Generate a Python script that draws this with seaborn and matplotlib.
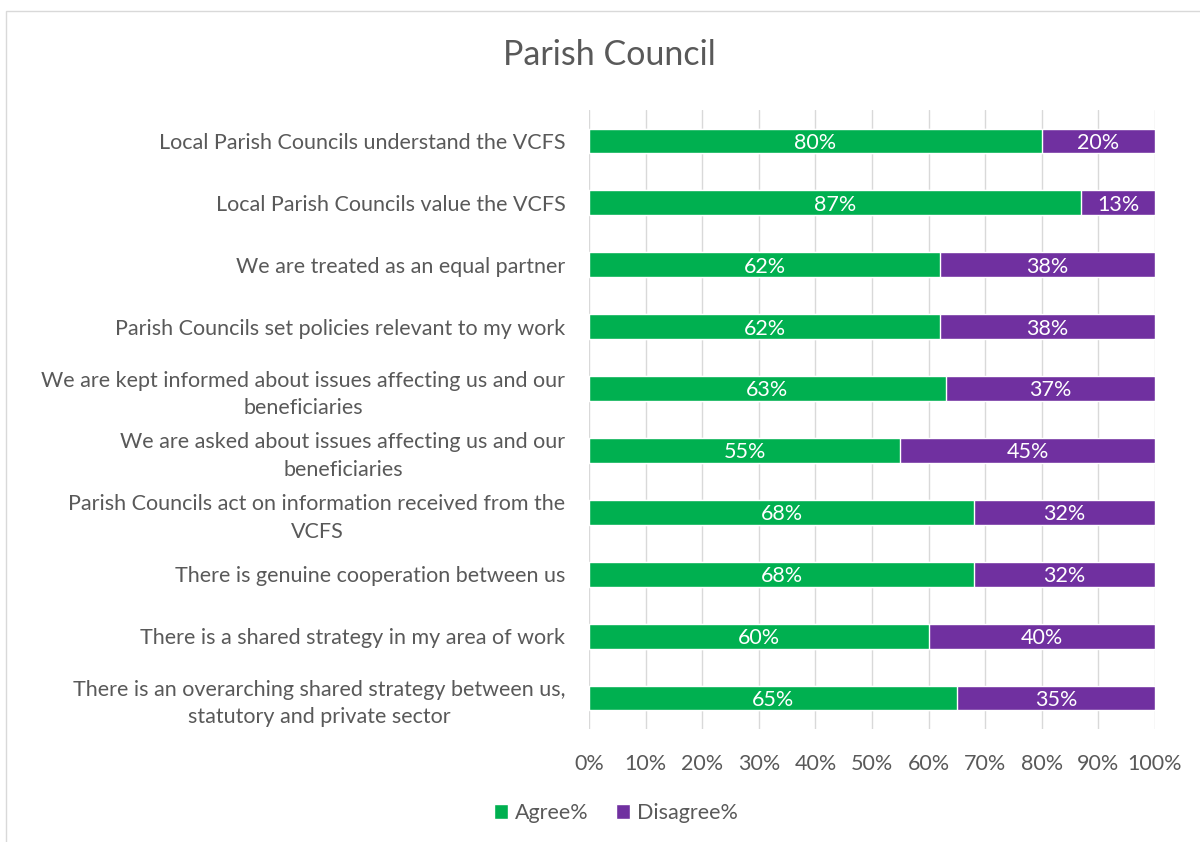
import matplotlib
matplotlib.use("Agg")
import matplotlib.pyplot as plt
from matplotlib.patches import Patch, Rectangle
import seaborn as sns
import pandas as pd

statements = [
    "Local Parish Councils understand the VCFS",
    "Local Parish Councils value the VCFS",
    "We are treated as an equal partner",
    "Parish Councils set policies relevant to my work",
    "We are kept informed about issues affecting us and our\nbeneficiaries",
    "We are asked about issues affecting us and our\nbeneficiaries",
    "Parish Councils act on information received from the\nVCFS",
    "There is genuine cooperation between us",
    "There is a shared strategy in my area of work",
    "There is an overarching shared strategy between us,\nstatutory and private sector",
]
agree = [80, 87, 62, 62, 63, 55, 68, 68, 60, 65]
disagree = [20, 13, 38, 38, 37, 45, 32, 32, 40, 35]
x_ticks = [0, 10, 20, 30, 40, 50, 60, 70, 80, 90, 100]

GREEN = "#00B050"
PURPLE = "#7030A0"
TEXT = "#595959"
GRID = "#D9D9D9"

sns.set_theme(style="white")
plt.rcParams["font.family"] = ["Lato", "DejaVu Sans"]

df = pd.DataFrame({"statement": statements, "agree": agree, "disagree": disagree})
df["total"] = df["agree"] + df["disagree"]

fig = plt.figure(figsize=(12, 8.42), dpi=100)
ax = fig.add_axes([589 / 1200, 1 - 729 / 842, 566 / 1200, 619 / 842])

# stacked horizontal bars: full-length disagree layer, agree layer on top
sns.barplot(data=df, y="statement", x="total", color=PURPLE, orient="h",
            width=0.4, ax=ax, saturation=1, zorder=2)
sns.barplot(data=df, y="statement", x="agree", color=GREEN, orient="h",
            width=0.4, ax=ax, saturation=1, zorder=3)

for i, (a, d) in enumerate(zip(agree, disagree)):
    ax.text(a / 2, i + 0.03, f"{a}%", ha="center", va="center", color="white",
            fontsize=15.5, zorder=4)
    ax.text(a + d / 2, i + 0.03, f"{d}%", ha="center", va="center", color="white",
            fontsize=15.5, zorder=4)

ax.set_xlim(0, 100)
ax.set_ylim(len(statements) - 0.5, -0.5)
ax.set_xticks(x_ticks)
ax.set_xticklabels([f"{t}%" for t in x_ticks])
ax.xaxis.grid(True, color=GRID, linewidth=1, zorder=0)
ax.set_axisbelow(True)
ax.set_xlabel("")
ax.set_ylabel("")
for s in ax.spines.values():
    s.set_visible(False)
ax.tick_params(axis="x", length=0, pad=18, labelsize=15.5, labelcolor=TEXT)
ax.tick_params(axis="y", length=0, pad=17, labelsize=15.5, labelcolor=TEXT)
for lbl in ax.get_yticklabels():
    lbl.set_multialignment("center")
    lbl.set_linespacing(1.45)

fig.text(609 / 1200, 1 - 55 / 842, "Parish Council", ha="center", va="center",
         fontsize=24.5, color=TEXT)

handles = [Patch(facecolor=GREEN, label="Agree%"),
           Patch(facecolor=PURPLE, label="Disagree%")]
fig.legend(handles=handles, loc="center", bbox_to_anchor=(616 / 1200, 1 - 813 / 842),
           ncol=2, frameon=False, fontsize=15.5, handlelength=0.65, handleheight=0.65,
           handletextpad=0.3, columnspacing=1.3, labelcolor=TEXT)

fig.add_artist(Rectangle((6 / 1200, -0.01), 1.0, 1 - 11 / 842 + 0.01,
                         transform=fig.transFigure, fill=False,
                         edgecolor=GRID, linewidth=1))

fig.savefig("out.png", dpi=100)
